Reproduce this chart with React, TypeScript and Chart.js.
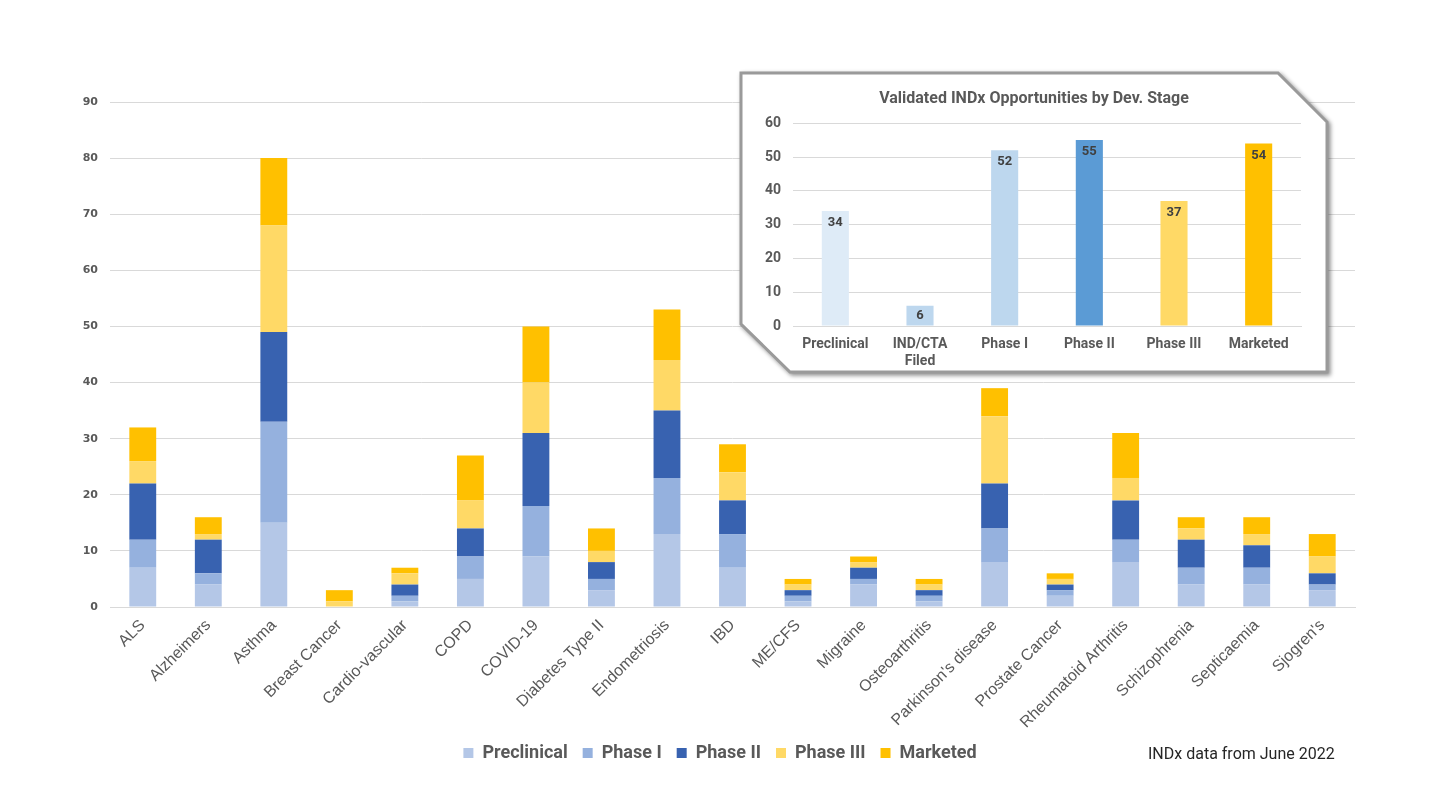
import React, { useEffect, useRef } from 'react';
import { Chart, registerables } from 'chart.js';

Chart.register(...registerables);

// ---- Main chart data ----
const categories = [
  'ALS', 'Alzheimers', 'Asthma', 'Breast Cancer', 'Cardio-vascular', 'COPD', 'COVID-19',
  'Diabetes Type II', 'Endometriosis', 'IBD', 'ME/CFS', 'Migraine', 'Osteoarthritis',
  "Parkinson's disease", 'Prostate Cancer', 'Rheumatoid Arthritis', 'Schizophrenia',
  'Septicaemia', "Sjogren's",
];
const preclinical = [7, 4, 15, 0, 1, 5, 9, 3, 13, 7, 1, 4, 1, 8, 2, 8, 4, 4, 3];
const phaseI = [5, 2, 18, 0, 1, 4, 9, 2, 10, 6, 1, 1, 1, 6, 1, 4, 3, 3, 1];
const phaseII = [10, 6, 16, 0, 2, 5, 13, 3, 12, 6, 1, 2, 1, 8, 1, 7, 5, 4, 2];
const phaseIII = [4, 1, 19, 1, 2, 5, 9, 2, 9, 5, 1, 1, 1, 12, 1, 4, 2, 2, 3];
const marketed = [6, 3, 12, 2, 1, 8, 10, 4, 9, 5, 1, 1, 1, 5, 1, 8, 2, 3, 4];
const seriesNames = ['Preclinical', 'Phase I', 'Phase II', 'Phase III', 'Marketed'];
const seriesColors = ['#B4C7E7', '#95B1DE', '#3862B0', '#FFD966', '#FFC000'];

// ---- Inset chart data ----
const stageLabels: (string | string[])[] = ['Preclinical', ['IND/CTA', 'Filed'], 'Phase I', 'Phase II', 'Phase III', 'Marketed'];
const stageValues = [34, 6, 52, 55, 37, 54];
const stageColors = ['#DEEBF7', '#BDD7EE', '#BDD7EE', '#5B9BD5', '#FFD966', '#FFC000'];
const insetTitle = 'Validated INDx Opportunities by Dev. Stage';
const footnote = 'INDx data from June 2022';

const GREY = '#595959';
const GRID = '#d9d9d9';

const insetLabelsPlugin = {
  id: 'insetLabels',
  afterDatasetsDraw(chart: any) {
    const ctx = chart.ctx;
    const meta = chart.getDatasetMeta(0);
    ctx.save();
    ctx.font = 'bold 13px Roboto';
    ctx.fillStyle = '#404040';
    ctx.textAlign = 'center';
    ctx.textBaseline = 'middle';
    meta.data.forEach((bar: any, i: number) => {
      const h = bar.base - bar.y;
      const off = Math.min(12, h / 2);
      ctx.fillText(String(stageValues[i]), bar.x, bar.y + off);
    });
    ctx.restore();
  },
};

export default function App() {
  const mainRef = useRef<HTMLCanvasElement>(null);
  const insetRef = useRef<HTMLCanvasElement>(null);

  useEffect(() => {
    const seriesData = [preclinical, phaseI, phaseII, phaseIII, marketed];
    const main = new Chart(mainRef.current!, {
      type: 'bar',
      data: {
        labels: categories,
        datasets: seriesNames.map((name, i) => ({
          label: name,
          data: seriesData[i],
          backgroundColor: seriesColors[i],
          borderWidth: 0,
          barPercentage: 0.41,
          categoryPercentage: 1,
          yAxisID: 'y',
        })),
      },
      options: {
        responsive: false,
        animation: false,
        layout: { padding: { left: 0, right: 0, top: 102, bottom: 38 } },
        plugins: {
          legend: {
            position: 'bottom',
            labels: {
              boxWidth: 10,
              boxHeight: 10,
              padding: 15,
              color: GREY,
              font: { family: 'Roboto', size: 18, weight: 'bold' },
            },
          },
          tooltip: { enabled: false },
        },
        scales: {
          x: {
            stacked: true,
            grid: { display: false },
            border: { display: true, color: GRID },
            ticks: {
              color: GREY,
              font: { family: 'Liberation Sans', size: 16 },
              minRotation: 45,
              maxRotation: 45,
              autoSkip: false,
              padding: 1,
            },
            afterFit: (s: any) => { s.height = 122; },
          },
          y: {
            stacked: true,
            min: 0,
            max: 90,
            ticks: {
              stepSize: 10,
              color: GREY,
              font: { family: 'DejaVu Sans', size: 11, weight: 'bold' },
              padding: 12,
            },
            grid: { color: GRID, drawTicks: false },
            border: { display: false },
            afterFit: (s: any) => { s.width = 110; },
          },
          yr: {
            position: 'right',
            grid: { display: false },
            ticks: { display: false },
            border: { display: false },
            afterFit: (s: any) => { s.width = 85; },
          },
        },
      } as any,
    });

    const inset = new Chart(insetRef.current!, {
      type: 'bar',
      data: {
        labels: stageLabels as any,
        datasets: [{
          label: 'Validated',
          data: stageValues,
          backgroundColor: stageColors,
          borderWidth: 0,
          barPercentage: 0.32,
          categoryPercentage: 1,
          yAxisID: 'y',
        }],
      },
      options: {
        responsive: false,
        animation: false,
        layout: { padding: 0 },
        plugins: {
          legend: { display: false },
          tooltip: { enabled: false },
          title: {
            display: true,
            text: insetTitle,
            color: GREY,
            font: { family: 'Roboto', size: 16, weight: 'bold' },
            padding: { top: 17, bottom: 15 },
          },
        },
        scales: {
          x: {
            grid: { display: false },
            border: { display: true, color: GRID },
            ticks: {
              color: GREY,
              font: { family: 'Roboto', size: 14, weight: 'bold' },
              padding: 2,
              maxRotation: 0,
              autoSkip: false,
            },
            afterFit: (s: any) => { s.height = 47; },
          },
          y: {
            min: 0,
            max: 60,
            ticks: {
              stepSize: 10,
              color: GREY,
              font: { family: 'Roboto', size: 14, weight: 'bold' },
              padding: 12,
            },
            grid: { color: GRID, drawTicks: false },
            border: { display: false },
            afterFit: (s: any) => { s.width = 53; },
          },
          yr: {
            position: 'right',
            grid: { display: false },
            ticks: { display: false },
            border: { display: false },
            afterFit: (s: any) => { s.width = 27; },
          },
        },
      } as any,
      plugins: [insetLabelsPlugin],
    });

    return () => {
      main.destroy();
      inset.destroy();
    };
  }, []);

  return (
    <div style={{ position: 'absolute', left: 0, top: 0, width: 1440, height: 810, background: '#fff', overflow: 'hidden' }}>
      <canvas ref={mainRef} width={1440} height={810} style={{ position: 'absolute', left: 0, top: 0, width: 1440, height: 810 }} />
      <svg width={1440} height={810} style={{ position: 'absolute', left: 0, top: 0, pointerEvents: 'none', filter: 'drop-shadow(2px 2px 2px rgba(0,0,0,0.45))' }}>
        <polygon
          points="741,73 1278,73 1327,122 1327,372 790,372 741,324"
          fill="#ffffff"
          stroke="#9a9a9a"
          strokeWidth={3}
        />
      </svg>
      <canvas ref={insetRef} width={588} height={301} style={{ position: 'absolute', left: 740, top: 72, width: 588, height: 301 }} />
      <div style={{ position: 'absolute', left: 1148, top: 744, lineHeight: '20px', fontFamily: 'Roboto', fontSize: 16, color: '#262626', whiteSpace: 'nowrap' }}>
        {footnote}
      </div>
    </div>
  );
}
